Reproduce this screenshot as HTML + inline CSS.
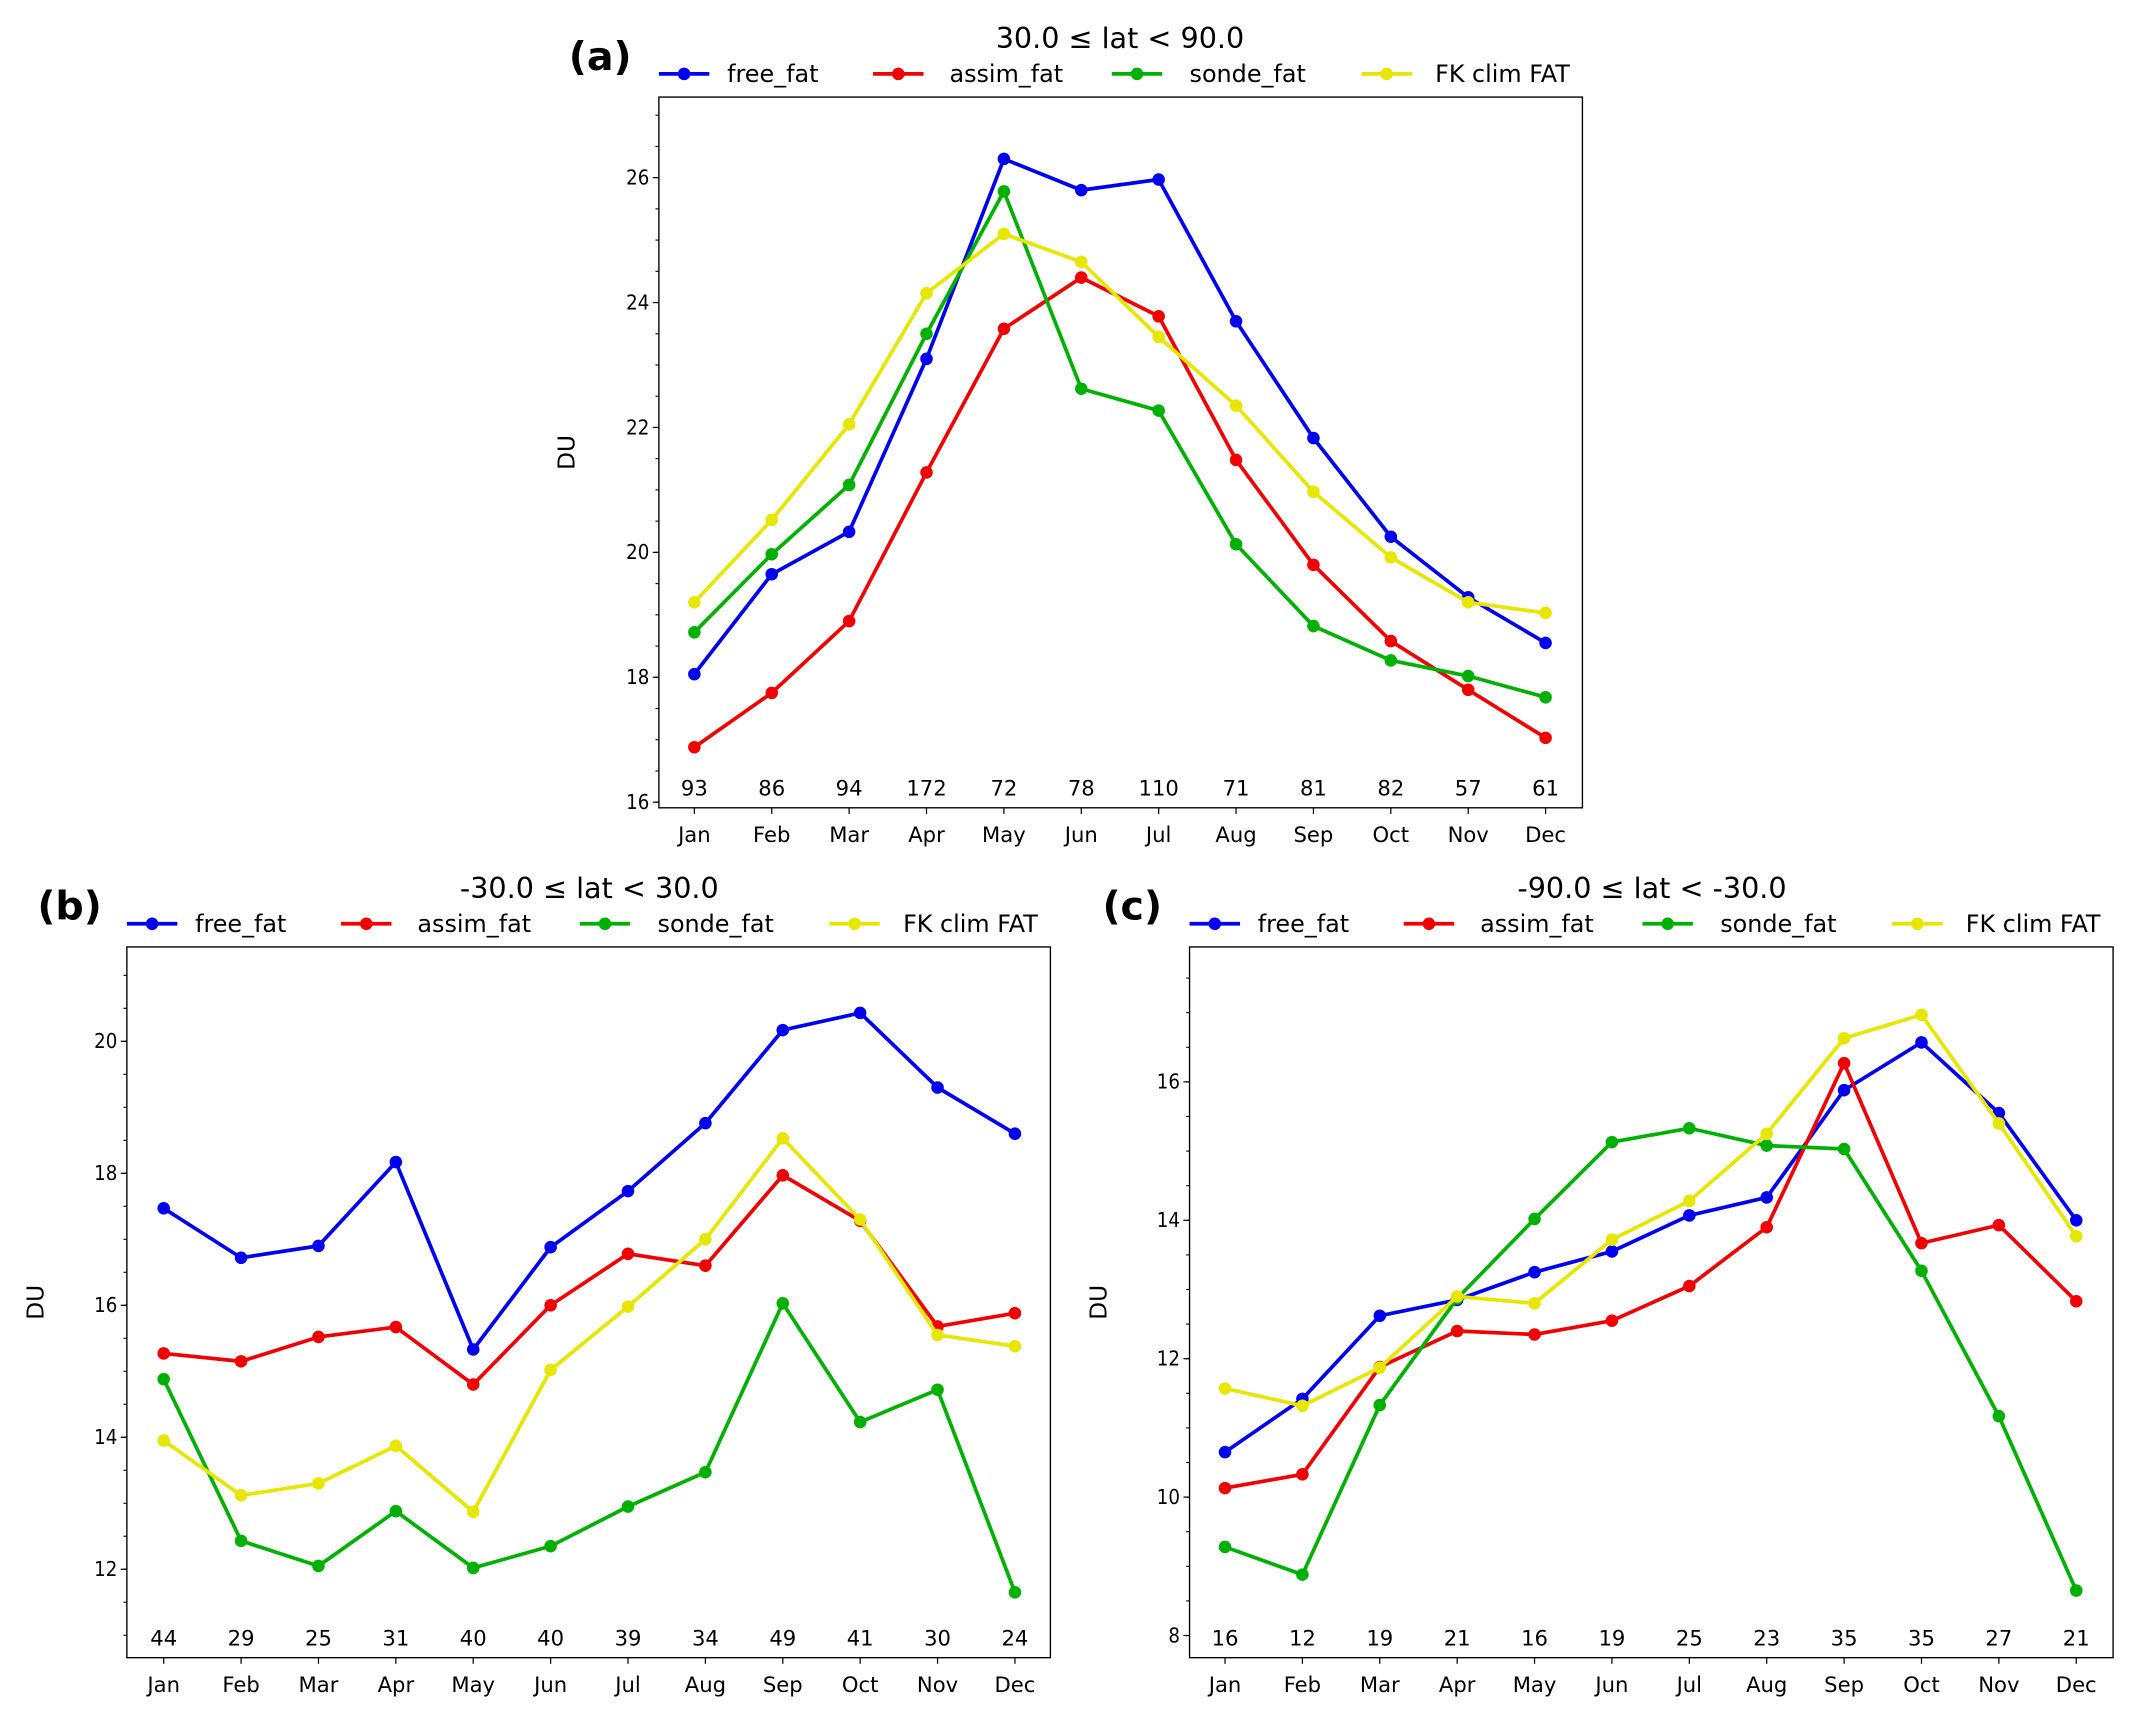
<!DOCTYPE html>
<html><head><meta charset="utf-8"><style>
html,body{margin:0;padding:0;background:#fff}
svg{display:block}
text{font-family:"DejaVu Sans","Liberation Sans",sans-serif;fill:#000}
</style></head><body>
<svg id="fig" width="2139" height="1722" viewBox="0 0 1568 1262" xmlns="http://www.w3.org/2000/svg"></svg>
<script>
const months = ["Jan","Feb","Mar","Apr","May","Jun","Jul","Aug","Sep","Oct","Nov","Dec"];
const seriesNames = ["free_fat","assim_fat","sonde_fat","FK clim FAT"];
const seriesColors = ["#0000f0","#f00000","#00b000","#e6e600"];

const aFree  = [18.05,19.65,20.33,23.1,26.3,25.8,25.97,23.7,21.83,20.25,19.28,18.55];
const aAssim = [16.88,17.75,18.9,21.28,23.58,24.4,23.78,21.48,19.8,18.58,17.8,17.03];
const aSonde = [18.72,19.97,21.08,23.5,25.78,22.62,22.27,20.13,18.82,18.27,18.02,17.68];
const aFK    = [19.2,20.52,22.05,24.15,25.1,24.65,23.45,22.35,20.97,19.92,19.2,19.03];
const aCounts = [93,86,94,172,72,78,110,71,81,82,57,61];
const aTicks = [16,18,20,22,24,26];

const bFree  = [17.47,16.72,16.9,18.17,15.33,16.88,17.73,18.76,20.17,20.43,19.3,18.6];
const bAssim = [15.27,15.15,15.52,15.67,14.8,16.0,16.78,16.6,17.97,17.28,15.68,15.88];
const bSonde = [14.88,12.43,12.05,12.88,12.02,12.35,12.95,13.47,16.03,14.23,14.72,11.65];
const bFK    = [13.95,13.12,13.3,13.87,12.87,15.02,15.98,17.0,18.53,17.3,15.55,15.38];
const bCounts = [44,29,25,31,40,40,39,34,49,41,30,24];
const bTicks = [12,14,16,18,20];

const cFree  = [10.65,11.42,12.62,12.85,13.25,13.55,14.07,14.33,15.88,16.57,15.55,14.0];
const cAssim = [10.13,10.33,11.88,12.4,12.35,12.55,13.05,13.9,16.27,13.67,13.93,12.83];
const cSonde = [9.28,8.88,11.33,12.87,14.02,15.13,15.33,15.08,15.03,13.27,11.17,8.65];
const cFK    = [11.57,11.32,11.87,12.9,12.8,13.72,14.28,15.25,16.63,16.97,15.4,13.77];
const cCounts = [16,12,19,21,16,19,25,23,35,35,27,21];
const cTicks = [8,10,12,14,16];

const NS="http://www.w3.org/2000/svg";
const svg=document.getElementById('fig');
function mk(tag,attrs,parent){const e=document.createElementNS(NS,tag);for(const k in attrs)e.setAttribute(k,attrs[k]);(parent||svg).appendChild(e);return e;}

function panel(cfg){
  const g=mk('g',{});
  
  
  const L=cfg.left,R=cfg.right,T=cfg.top,B=cfg.bottom;
  const x=i=>cfg.x0+(cfg.x1-cfg.x0)*i/11;
  const y=v=>B-(v-cfg.ymin)/(cfg.ymax-cfg.ymin)*(B-T);
  for(let v=Math.ceil(cfg.ymin*2)/2; v<=cfg.ymax; v+=0.5){
    const t=mk('line',{x1:L-2.5,x2:L,y1:y(v),y2:y(v),stroke:'#000','stroke-width':0.8},g);
    
    
  }
  cfg.ticks.forEach(v=>{
    const t=mk('line',{x1:L-4.5,x2:L,y1:y(v),y2:y(v),stroke:'#000','stroke-width':0.9},g);
    
    
    const tx=mk('text',{x:L-7,y:y(v)+5,'text-anchor':'end','font-size':15,textLength:17,lengthAdjust:'spacingAndGlyphs'},g);
    tx.textContent=v;
    if(String(v).length==1) tx.setAttribute('textLength',8.5);
    
    
  });
  months.forEach((m,i)=>{
    const t=mk('line',{x1:x(i),x2:x(i),y1:B,y2:B+4.5,stroke:'#000','stroke-width':0.9},g);
    
    
    const tx=mk('text',{x:x(i),y:B+25,'text-anchor':'middle','font-size':15.5},g);
    tx.textContent=m;
    
    
    const c=mk('text',{x:x(i),y:B-9,'text-anchor':'middle','font-size':15.5},g);
    c.textContent=cfg.counts[i];
    
    
  });
  cfg.series.forEach((d,s)=>{
    const pts=d.map((v,i)=>x(i)+','+y(v)).join(' ');
    const pl=mk('polyline',{points:pts,fill:'none',stroke:seriesColors[s],'stroke-width':2.7,'stroke-linejoin':'round'},g);
    
    
    d.forEach((v,i)=>{
      const c=mk('circle',{cx:x(i),cy:y(v),r:4.6,fill:seriesColors[s]},g);
      
      
    });
  });
  const fr=mk('rect',{x:L,y:T,width:R-L,height:B-T,fill:'none',stroke:'#000','stroke-width':1},g);
  
  
  const ttl=mk('text',{x:cfg.titleX,y:T-36,'text-anchor':'middle','font-size':21},g);
  ttl.textContent=cfg.title;
  
  
  const lab=mk('text',{x:cfg.labX,y:T-20,'text-anchor':'middle','font-size':29,'font-weight':'bold'},g);
  lab.textContent='('+cfg.id+')';
  
  
  const du=mk('text',{x:0,y:0,'text-anchor':'middle','font-size':17,transform:`translate(${cfg.duX},${(T+B)/2}) rotate(-90)`},g);
  du.textContent='DU';
  
  
  const offs=[0,157,332,515], toffs=[50,56,57,54];
  seriesNames.forEach((n,s)=>{
    const lx=L+offs[s];
    const ly=T-17;
    const lg=mk('g',{},g);
    
    
    mk('line',{x1:lx,x2:lx+37,y1:ly,y2:ly,stroke:seriesColors[s],'stroke-width':2.7},lg);
    mk('circle',{cx:lx+18.5,cy:ly,r:4.6,fill:seriesColors[s]},lg);
    const t=mk('text',{x:lx+toffs[s],y:ly+6,'font-size':17.5},lg);
    t.textContent=n;
  });
}

panel({id:'a',left:483,right:1160,top:71,bottom:592,x0:509,x1:1133,ymin:15.91,ymax:27.29,
  ticks:aTicks,counts:aCounts,series:[aFree,aAssim,aSonde,aFK],title:'30.0 ≤ lat < 90.0',titleX:821,labX:440,duX:421});
panel({id:'b',left:93,right:770,top:694,bottom:1215,x0:120,x1:744,ymin:10.66,ymax:21.43,
  ticks:bTicks,counts:bCounts,series:[bFree,bAssim,bSonde,bFK],title:'-30.0 ≤ lat < 30.0',titleX:432,labX:51,duX:32});
panel({id:'c',left:872,right:1549,top:694,bottom:1215,x0:898,x1:1522,ymin:7.68,ymax:17.95,
  ticks:cTicks,counts:cCounts,series:[cFree,cAssim,cSonde,cFK],title:'-90.0 ≤ lat < -30.0',titleX:1211,labX:830,duX:811});
</script>
</body></html>
